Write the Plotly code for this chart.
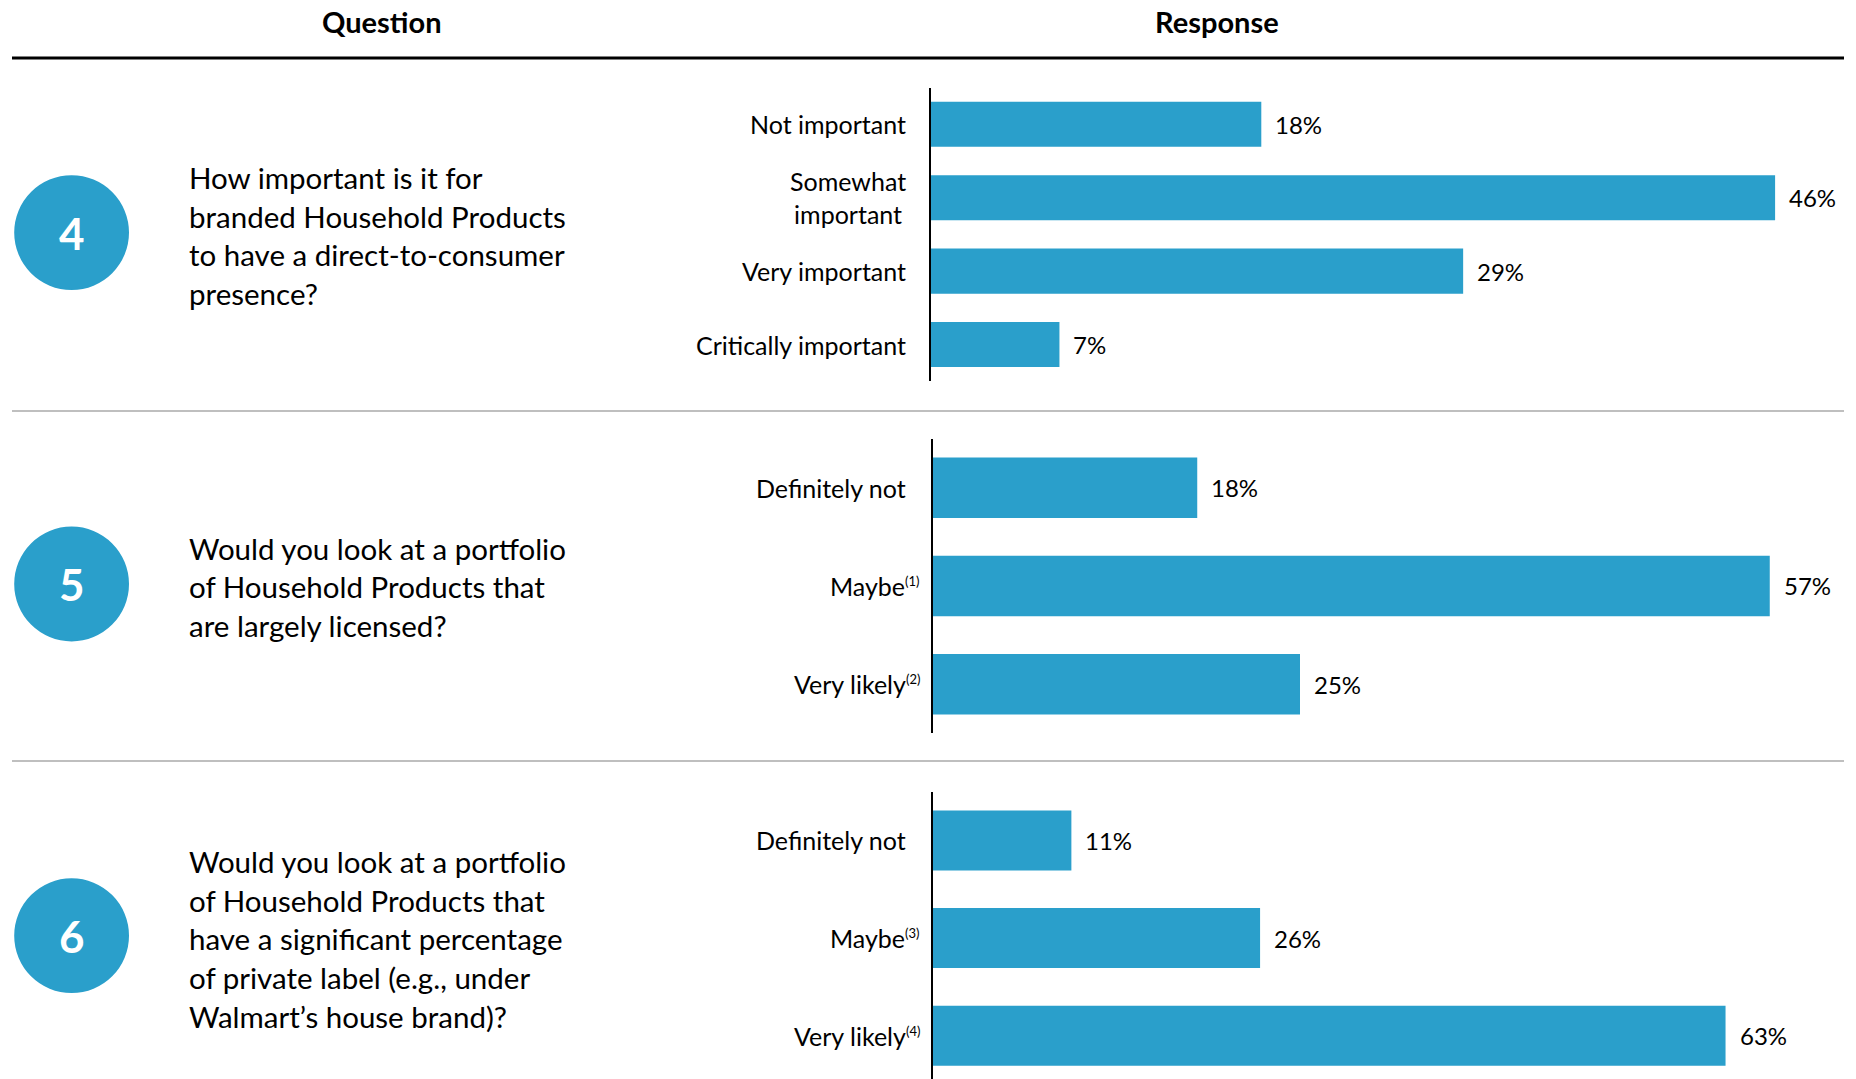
import plotly.graph_objects as go

# ---- survey data ----
q4_labels = ["Not important", "Somewhat<br>important", "Very important", "Critically important"]
q4_values = [18, 46, 29, 7]

q5_labels = ["Definitely not", "Maybe", "Very likely"]
q5_notes = ["", "(1)", "(2)"]
q5_values = [18, 57, 25]

q6_labels = ["Definitely not", "Maybe", "Very likely"]
q6_notes = ["", "(3)", "(4)"]
q6_values = [11, 26, 63]

question_numbers = ["4", "5", "6"]
question_lines = [
    ["How important is it for", "branded Household Products",
     "to have a direct-to-consumer", "presence?"],
    ["Would you look at a portfolio", "of Household Products that",
     "are largely licensed?"],
    ["Would you look at a portfolio", "of Household Products that",
     "have a significant percentage", "of private label (e.g., under",
     "Walmart\u2019s house brand)?"],
]
header_labels = ["Question", "Response"]

# ---- layout constants (pixels) ----
W, H = 1856, 1079
BLUE = "#2A9FCB"
FONT = "Lato"


def px(x):
    return x / W


def py(y):
    return 1 - y / H


# per-panel geometry: bar origin, pixels per percentage point, top, row pitch
panels = [
    dict(labels=q4_labels, notes=[""] * 4, values=q4_values,
         x0=931, ppu=18.35, top=87.6, pitch=73.4),
    dict(labels=q5_labels, notes=q5_notes, values=q5_values,
         x0=933, ppu=14.68, top=438.6, pitch=98.25),
    dict(labels=q6_labels, notes=q6_notes, values=q6_values,
         x0=933, ppu=12.58, top=791.6, pitch=97.65),
]

fig = go.Figure()
annotations = []
shapes = []

for i, p in enumerate(panels):
    n = len(p["values"])
    sfx = "" if i == 0 else str(i + 1)
    bottom = min(p["top"] + n * p["pitch"], H)
    y_hi = -0.5 + (bottom - p["top"]) / p["pitch"]
    cats = list(range(n))
    fig.add_trace(go.Bar(
        x=p["values"], y=cats, orientation="h",
        marker=dict(color=BLUE, line=dict(width=0)),
        width=0.615, xaxis="x" + sfx, yaxis="y" + sfx,
        hoverinfo="skip", showlegend=False,
    ))
    fig.update_layout(**{
        "xaxis" + sfx: dict(domain=[px(p["x0"]), 1],
                            range=[0, (W - p["x0"]) / p["ppu"]],
                            visible=False, fixedrange=True),
        "yaxis" + sfx: dict(domain=[py(bottom), py(p["top"])],
                            range=[y_hi, -0.5], anchor="x" + sfx,
                            showticklabels=False, showgrid=False,
                            zeroline=False, showline=True,
                            linecolor="black", linewidth=2, ticks=""),
    })
    for k in range(n):
        note = p["notes"][k]
        text = p["labels"][k]
        if note:
            text += f"<sup><span style='font-size:13px'>{note}</span></sup>"
        annotations.append(dict(
            text=text, xref="paper", yref="y" + sfx,
            x=px(922 if note else 908), y=k,
            xanchor="right", yanchor="middle", align="center",
            showarrow=False, font=dict(family=FONT, size=25, color="black"),
        ))
        annotations.append(dict(
            text=f"{p['values'][k]}%", xref="x" + sfx, yref="y" + sfx,
            x=p["values"][k], y=k, xanchor="left", yanchor="middle",
            xshift=12, showarrow=False,
            font=dict(family=FONT, size=24, color="black"),
        ))

# question column: numbered circles and wrapped question text
circle_centres = [232.6, 584.0, 935.7]
line_starts = [177.6, 548.0, 861.7]
line_pitch = 38.6
for num, cy, lines, y0 in zip(question_numbers, circle_centres,
                              question_lines, line_starts):
    shapes.append(dict(type="circle", xref="paper", yref="paper",
                       x0=px(14.2), x1=px(129), y0=py(cy + 57.4),
                       y1=py(cy - 57.4), fillcolor=BLUE, line=dict(width=0)))
    annotations.append(dict(text=f"<b>{num}</b>", xref="paper", yref="paper",
                            x=px(71.6), y=py(cy), showarrow=False,
                            xanchor="center", yanchor="middle",
                            font=dict(family=FONT, size=44, color="white")))
    for j, line in enumerate(lines):
        annotations.append(dict(text=line, xref="paper", yref="paper",
                                x=px(187), y=py(y0 + j * line_pitch),
                                xanchor="left", yanchor="middle",
                                showarrow=False,
                                font=dict(family=FONT, size=29.5, color="black")))

# column headers and rules
for label, cx in zip(header_labels, [382, 1217]):
    annotations.append(dict(text=f"<b>{label}</b>", xref="paper", yref="paper",
                            x=px(cx), y=py(21), xanchor="center",
                            yanchor="middle", showarrow=False,
                            font=dict(family=FONT, size=29, color="black")))

shapes.append(dict(type="line", xref="paper", yref="paper",
                   x0=px(12), x1=px(1844), y0=py(58), y1=py(58),
                   line=dict(color="black", width=3)))
for gy in [411, 761]:
    shapes.append(dict(type="line", xref="paper", yref="paper",
                       x0=px(12), x1=px(1844), y0=py(gy), y1=py(gy),
                       line=dict(color="#BFBFBF", width=2)))

fig.update_layout(
    width=W, height=H,
    margin=dict(l=0, r=0, t=0, b=0),
    paper_bgcolor="white", plot_bgcolor="rgba(0,0,0,0)",
    annotations=annotations, shapes=shapes,
    font=dict(family=FONT),
)

fig.write_html("out.html", config={"displayModeBar": False})
